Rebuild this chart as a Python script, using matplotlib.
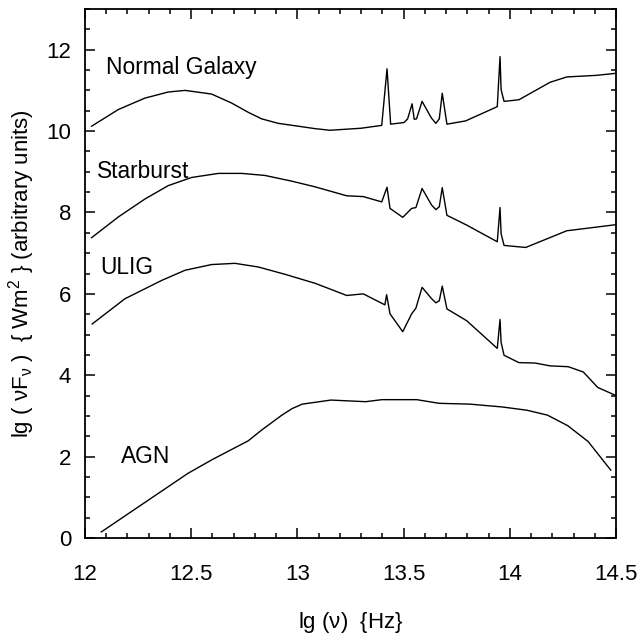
import numpy as np
import matplotlib
matplotlib.use("Agg")
import matplotlib.pyplot as plt
from matplotlib.ticker import MultipleLocator

# lg(nu) / lg(nu F_nu)
normal_x = [12.031, 12.157, 12.282, 12.392, 12.471, 12.596, 12.69, 12.769, 12.832, 12.91,
            13.004, 13.083, 13.153, 13.30, 13.397, 13.422, 13.439, 13.502, 13.519, 13.540,
            13.550, 13.561, 13.587, 13.631, 13.652, 13.668, 13.682, 13.704, 13.792, 13.941,
            13.954, 13.959, 13.973, 14.043, 14.19, 14.268, 14.409, 14.50]
normal_y = [10.12, 10.53, 10.81, 10.96, 11.00, 10.91, 10.69, 10.46, 10.30, 10.19,
            10.12, 10.06, 10.02, 10.07, 10.14, 11.53, 10.17, 10.21, 10.30, 10.67,
            10.29, 10.30, 10.73, 10.32, 10.19, 10.30, 10.93, 10.17, 10.25, 10.60,
            11.83, 11.02, 10.73, 10.77, 11.20, 11.33, 11.37, 11.42]

starburst_x = [12.031, 12.157, 12.282, 12.392, 12.502, 12.628, 12.738, 12.847, 12.973,
               13.083, 13.232, 13.31, 13.397, 13.422, 13.436, 13.496, 13.538, 13.558,
               13.587, 13.632, 13.652, 13.668, 13.682, 13.704, 13.797, 13.941, 13.954,
               13.959, 13.973, 14.075, 14.268, 14.50]
starburst_y = [7.38, 7.89, 8.33, 8.66, 8.86, 8.96, 8.96, 8.91, 8.77,
               8.63, 8.41, 8.39, 8.26, 8.62, 8.10, 7.88, 8.10, 8.12,
               8.59, 8.18, 8.07, 8.14, 8.61, 7.93, 7.69, 7.28, 8.12,
               7.48, 7.19, 7.14, 7.55, 7.70]

ulig_x = [12.034, 12.188, 12.361, 12.471, 12.596, 12.706, 12.816, 12.942, 13.083, 13.153,
          13.232, 13.31, 13.412, 13.420, 13.436, 13.496, 13.538, 13.558, 13.587, 13.632,
          13.652, 13.668, 13.682, 13.704, 13.797, 13.941, 13.954, 13.959, 13.973, 14.043,
          14.119, 14.19, 14.275, 14.346, 14.414, 14.50]
ulig_y = [5.26, 5.88, 6.33, 6.58, 6.72, 6.75, 6.66, 6.48, 6.26, 6.12,
          5.96, 6.00, 5.73, 5.98, 5.51, 5.07, 5.51, 5.65, 6.16, 5.88,
          5.78, 5.83, 6.19, 5.63, 5.34, 4.66, 5.37, 4.81, 4.49, 4.31,
          4.30, 4.23, 4.21, 4.08, 3.70, 3.50]

agn_x = [12.077, 12.485, 12.60, 12.769, 12.831, 12.927, 12.975, 13.023, 13.158, 13.321,
         13.398, 13.562, 13.667, 13.812, 13.965, 14.081, 14.177, 14.273, 14.369, 14.475]
agn_y = [0.15, 1.59, 1.93, 2.39, 2.65, 3.02, 3.18, 3.29, 3.39, 3.35,
         3.40, 3.40, 3.31, 3.29, 3.22, 3.14, 3.02, 2.76, 2.37, 1.67]

labels = ["Normal Galaxy", "Starburst", "ULIG", "AGN"]
label_x = [12.10, 12.056, 12.07, 12.168]
label_y = [11.56, 9.01, 6.64, 2.0]

plt.rcParams['font.family'] = ['Liberation Sans', 'DejaVu Sans']
plt.rcParams['mathtext.fontset'] = 'custom'
plt.rcParams['mathtext.rm'] = 'Liberation Sans'
plt.rcParams['mathtext.default'] = 'regular'


def main():
    fig = plt.figure(figsize=(6.4, 6.34), dpi=100)
    ax = fig.add_axes([0.1328, 0.1514, 0.8297, 0.8344])

    for xs, ys in [(normal_x, normal_y), (starburst_x, starburst_y),
                   (ulig_x, ulig_y), (agn_x, agn_y)]:
        ax.plot(xs, ys, color='black', lw=1.0)

    for lab, lx, ly in zip(labels, label_x, label_y):
        ax.text(lx, ly, lab, fontsize=16.4, va='center', ha='left')

    ax.set_xlim(12, 14.5)
    ax.set_ylim(0, 13)
    ax.xaxis.set_major_locator(MultipleLocator(0.5))
    ax.xaxis.set_minor_locator(MultipleLocator(0.1))
    ax.yaxis.set_major_locator(MultipleLocator(2))
    ax.yaxis.set_minor_locator(MultipleLocator(0.5))
    ax.xaxis.set_major_formatter(plt.FuncFormatter(lambda v, p: f"{v:g}"))

    ax.tick_params(which='both', direction='in', top=True, right=True, width=1.1)
    ax.tick_params(which='major', length=7.2, labelsize=16)
    ax.tick_params(which='minor', length=3.6)
    ax.tick_params(axis='x', which='major', pad=19)
    ax.tick_params(axis='y', which='major', pad=10)

    for s in ax.spines.values():
        s.set_linewidth(1.3)

    ax.set_xlabel(r'lg ($\nu$)  {Hz}', fontsize=16, labelpad=18)
    ax.set_ylabel('lg ( νF$_{ν}$ )  { Wm$^{2}$ } (arbitrary units)', fontsize=16, labelpad=7)

    fig.savefig("out.png", dpi=100)


if __name__ == "__main__":
    main()
